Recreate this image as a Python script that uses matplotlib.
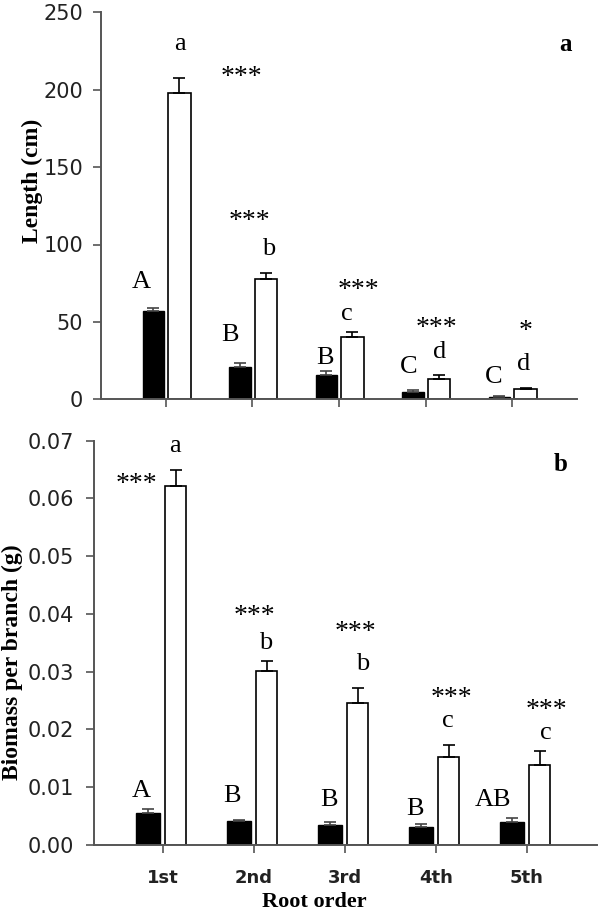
import matplotlib
matplotlib.use("Agg")
import matplotlib.pyplot as plt
import numpy as np

# ---------------- data ----------------
orders = ["1st", "2nd", "3rd", "4th", "5th"]

length_black = [57, 21, 16, 4.5, 1.5]
length_black_err = [2, 2.5, 2, 1.5, 0.5]
length_white = [198, 78, 40.5, 13, 6.5]
length_white_err = [9.5, 3.5, 3, 2.5, 0.8]

biomass_black = [0.0056, 0.0042, 0.0034, 0.0032, 0.0039]
biomass_black_err = [0.0006, 0.0002, 0.0005, 0.0004, 0.0007]
biomass_white = [0.0622, 0.0301, 0.0245, 0.0152, 0.0138]
biomass_white_err = [0.0027, 0.0017, 0.0027, 0.0021, 0.0025]

# annotation texts
len_black_letters = ["A", "B", "B", "C", "C"]
len_white_letters = ["a", "b", "c", "d", "d"]
len_stars = ["***", "***", "***", "***", "*"]
bio_black_letters = ["A", "B", "B", "B", "AB"]
bio_white_letters = ["a", "b", "b", "c", "c"]
bio_stars = ["***", "***", "***", "***", "***"]

# annotation placement (x in group units, y baseline in data units)
len_black_pos = [(-0.29, 72), (0.74, 37.6), (1.84, 22.5), (2.80, 17), (3.79, 10.8)]
len_white_pos = [(0.16, 225.5), (1.19, 93.4), (2.09, 51.5), (3.16, 27), (4.13, 18.9)]
len_star_pos = [(0.875, 204), (0.96, 110.8), (2.22, 66), (3.13, 41.5), (4.16, 39.5)]
bio_black_pos = [(-0.24, 0.0083), (0.76, 0.0075), (1.82, 0.0067), (2.77, 0.0052), (3.63, 0.0068)]
bio_white_pos = [(0.13, 0.0680), (1.13, 0.0340), (2.19, 0.0303), (3.13, 0.0205), (4.21, 0.0183)]
bio_star_pos = [(-0.29, 0.0613), (1.0, 0.0385), (2.115, 0.0356), (3.17, 0.0243), (4.21, 0.0221)]

SERIF = "Liberation Serif"
SANS = "DejaVu Sans"
SPINE = "#555555"

fig = plt.figure(figsize=(6, 9.11), dpi=100)

ax1 = fig.add_axes([101 / 600, 1 - 399.3 / 911, 476 / 600, (399.3 - 12.3) / 911])
ax2 = fig.add_axes([94.3 / 600, 1 - 845 / 911, 502.7 / 600, (845 - 440.7) / 911])

x = np.arange(len(orders))


def draw(ax, black, berr, white, werr, boff, woff, bw, ww, capsize):
    ax.bar(x + boff, black, width=bw, color="black", edgecolor="black", linewidth=1.0, zorder=2)
    ax.bar(x + woff, white, width=ww, color="white", edgecolor="black", linewidth=1.2, zorder=2)
    ax.errorbar(x + boff, black, yerr=[np.zeros(len(black)), berr], fmt="none",
                ecolor="#444444", elinewidth=1.2, capsize=capsize, capthick=1.2, zorder=3)
    ax.errorbar(x + woff, white, yerr=[np.zeros(len(white)), werr], fmt="none",
                ecolor="black", elinewidth=1.2, capsize=capsize, capthick=1.2, zorder=3)
    for s in ["top", "right"]:
        ax.spines[s].set_visible(False)
    for s in ["left", "bottom"]:
        ax.spines[s].set_color(SPINE)
        ax.spines[s].set_linewidth(1.4)
    ax.tick_params(axis="y", direction="out", length=6, width=1.2, color=SPINE,
                   labelsize=15, labelcolor="#222222", pad=7)
    ax.tick_params(axis="x", direction="out", length=5.5, width=1.2, color=SPINE, pad=12)
    ax.set_xticks(x)


draw(ax1, length_black, length_black_err, length_white, length_white_err,
     -0.145, 0.156, 0.245, 0.265, 4.5)
draw(ax2, biomass_black, biomass_black_err, biomass_white, biomass_white_err,
     -0.165, 0.14, 0.265, 0.235, 4.5)

ax1.set_xlim(-0.751, 4.751)
ax1.set_ylim(0, 250)
ax1.set_yticks([0, 50, 100, 150, 200, 250])
ax1.set_xticklabels([])
for t in ax1.get_yticklabels():
    t.set_family(SANS)

ax2.set_xlim(-0.755, 4.77)
ax2.set_ylim(0, 0.07)
ax2.set_yticks(np.arange(0, 0.071, 0.01))
ax2.set_yticklabels(["%.2f" % v for v in np.arange(0, 0.071, 0.01)])
ax2.tick_params(axis="y", pad=8.5)
ax2.set_xticklabels(orders, fontsize=13, fontweight="bold", family=SANS, color="#222222")
for t in ax2.get_yticklabels():
    t.set_family(SANS)


def annotate(ax, texts, pos, size):
    for t, (px, py) in zip(texts, pos):
        ax.text(px, py, t, ha="center", va="baseline", fontsize=size, family=SERIF, zorder=4)


annotate(ax1, len_black_letters, len_black_pos, 19)
annotate(ax1, len_white_letters, len_white_pos, 19)
annotate(ax1, len_stars, len_star_pos, 20)
annotate(ax2, bio_black_letters, bio_black_pos, 19)
annotate(ax2, bio_white_letters, bio_white_pos, 19)
annotate(ax2, bio_stars, bio_star_pos, 20)

ax1.text(4.62, 225, "a", ha="center", va="baseline", fontsize=18, fontweight="bold", family=SERIF)
ax2.text(4.37, 0.0648, "b", ha="center", va="baseline", fontsize=18, fontweight="bold", family=SERIF)

fig.text(32 / 600, 1 - 181 / 911, "Length (cm)", rotation=90, ha="center", va="center",
         fontsize=17, fontweight="bold", family=SERIF)
fig.text(12.5 / 600, 1 - 662.5 / 911, "Biomass per branch (g)", rotation=90, ha="center",
         va="center", fontsize=17, fontweight="bold", family=SERIF)
fig.text(314.5 / 600, 1 - 902 / 911, "Root order", ha="center", va="center",
         fontsize=16, fontweight="bold", family=SERIF)

fig.savefig("out.png", dpi=100, facecolor="white")
